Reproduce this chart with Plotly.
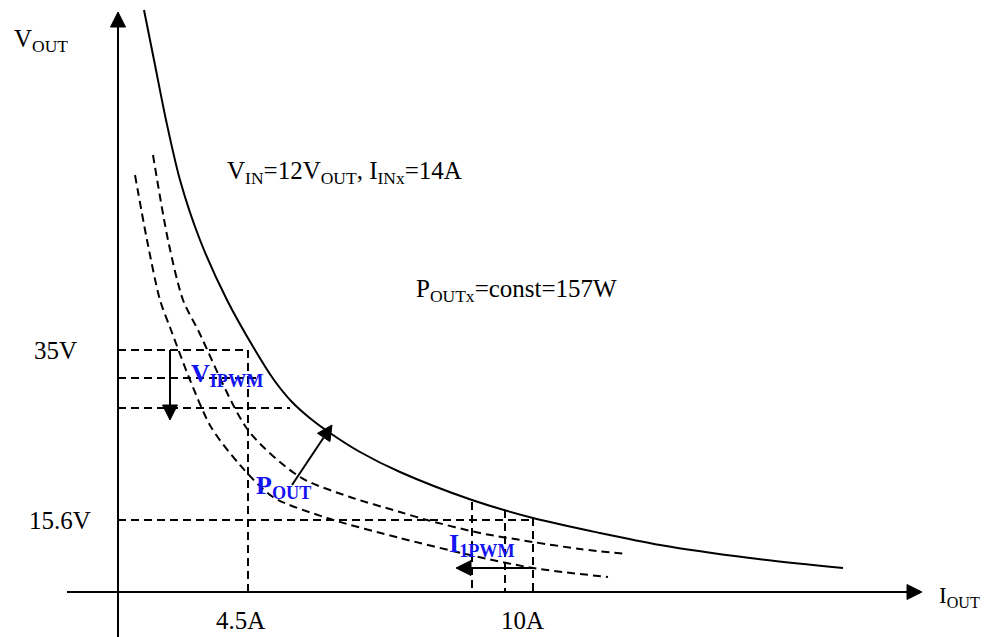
import math
import plotly.graph_objects as go

# Diagram units: x grows right from the I_OUT/V_OUT origin, y grows up (1 unit = 1 px).
# Solid constant-power curve (P_OUTx = 157 W)
p_curve_x = [26, 37, 48, 62, 82, 109, 137, 156, 174, 193, 212, 242, 282, 354, 415, 482, 542, 632, 725]
p_curve_y = [582, 527, 472, 412, 352, 292, 242, 212, 190, 173, 159, 140, 120, 92, 74, 59, 47, 34, 24]

# Dashed reduced-power curves
outer_x = [35, 50, 65, 80, 130, 182, 232, 282, 309, 362, 415, 462, 509]
outer_y = [437, 352, 292, 262, 162, 115, 95, 80, 72, 59, 50, 43, 38]
inner_x = [17, 29, 42, 53, 72, 93, 122, 155, 209, 282, 352, 415, 490]
inner_y = [417, 352, 292, 262, 212, 165, 127, 95, 74, 54, 37, 24, 15]

# Guide levels
v_levels = {"35V": 242, "mid": 214, "low": 184, "15.6V": 72}
i_levels = {"4.5A": 130, "a": 354, "b": 387, "10A": 415}
v_guide_ends = {"35V": 130, "mid": 142, "low": 172, "15.6V": 415}
i_guide_tops = {"a": 90, "b": 82, "10A": 74}

# Axis extents
x_axis_span = [-51, 804]
y_axis_span = [-45, 580]

# Change arrows: (tail, head)
v_arrow = [(52, 242), (52, 172)]
p_arrow = [(174, 107), (214, 167)]
i_arrow = [(415, 24), (338, 24)]

serif = "Liberation Serif, Times New Roman, serif"
blue = "#1414f0"
dash = "8px,5px"
head_len, head_half = 15, 7.5

fig = go.Figure()


def add_line(xs, ys, dashed=False, width=2, spline=True):
    fig.add_trace(go.Scatter(
        x=xs, y=ys, mode="lines", hoverinfo="skip", showlegend=False,
        line=dict(color="black", width=width, dash=dash if dashed else "solid",
                  shape="spline" if spline else "linear", smoothing=0.8),
    ))


def add_arrow(tail, head):
    dx, dy = head[0] - tail[0], head[1] - tail[1]
    n = math.hypot(dx, dy)
    ux, uy = dx / n, dy / n
    bx, by = head[0] - head_len * ux, head[1] - head_len * uy
    add_line([tail[0], bx], [tail[1], by], spline=False)
    fig.add_trace(go.Scatter(
        x=[head[0], bx - head_half * uy, bx + head_half * uy, head[0]],
        y=[head[1], by + head_half * ux, by - head_half * ux, head[1]],
        mode="lines", fill="toself", fillcolor="black",
        line=dict(color="black", width=1), hoverinfo="skip", showlegend=False,
    ))


# power curves
add_line(p_curve_x, p_curve_y)
add_line(outer_x, outer_y, dashed=True)
add_line(inner_x, inner_y, dashed=True)

# horizontal voltage guides
for key, v in v_levels.items():
    add_line([0, v_guide_ends[key]], [v, v], dashed=True, spline=False)

# vertical current guides
add_line([i_levels["4.5A"], i_levels["4.5A"]], [v_levels["35V"], 0], dashed=True, spline=False)
for key in ["a", "b", "10A"]:
    add_line([i_levels[key], i_levels[key]], [i_guide_tops[key], 0], dashed=True, spline=False)

# axes with arrowheads
add_arrow((x_axis_span[0], 0), (x_axis_span[1], 0))
add_arrow((0, y_axis_span[0]), (0, y_axis_span[1]))

# change arrows
add_arrow(*v_arrow)
add_arrow(*p_arrow)
add_arrow(*i_arrow)

annotations = []


def label(x, y, text, size=25, color="black", anchor="center"):
    annotations.append(dict(
        x=x, y=y, xref="x", yref="y", text=text, showarrow=False,
        xanchor=anchor, yanchor="middle",
        font=dict(family=serif, size=size, color=color),
    ))


label(-106, 552, "V<sub>OUT</sub>", anchor="left")
label(819, -5, "I<sub>OUT</sub>", size=23, anchor="left")
label(-63, v_levels["35V"], "35V")
label(-58, v_levels["15.6V"], "15.6V")
label(i_levels["4.5A"] - 8, -28, "4.5A")
label(404, -28, "10A")
label(107, 420, "V<sub>IN</sub>=12V<sub>OUT</sub>, I<sub>INx</sub>=14A", anchor="left")
label(296, 302, "P<sub>OUTx</sub>=const=157W", anchor="left")

label(71, 217, "<b>V<sub>IPWM</sub></b>", size=26, color=blue, anchor="left")
label(136, 105, "<b>P<sub>OUT</sub></b>", size=26, color=blue, anchor="left")
label(329, 47, "<b>I<sub>1PWM</sub></b>", size=26, color=blue, anchor="left")

fig.update_layout(
    width=984, height=637, autosize=False,
    margin=dict(l=0, r=0, t=0, b=0),
    paper_bgcolor="white", plot_bgcolor="white",
    xaxis=dict(range=[-118, 866], visible=False, fixedrange=True),
    yaxis=dict(range=[-45, 592], visible=False, fixedrange=True),
    annotations=annotations,
    showlegend=False,
)

fig.write_html("out.html")
